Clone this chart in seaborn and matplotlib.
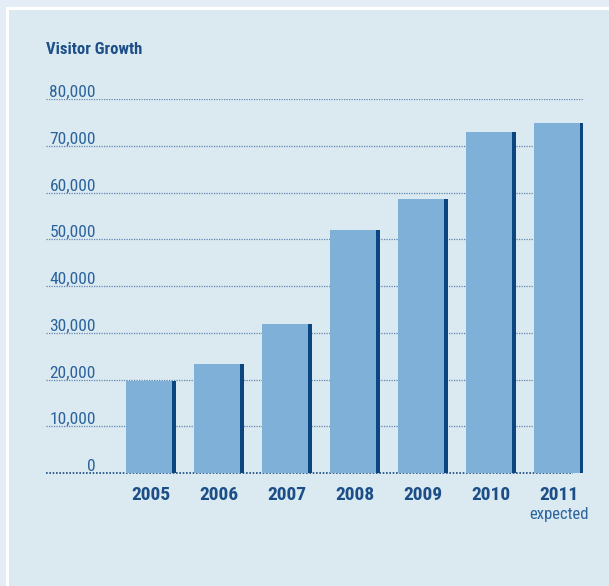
import numpy as np
import pandas as pd
import matplotlib
matplotlib.use("Agg")
import matplotlib.pyplot as plt
import matplotlib.transforms as mtransforms
import seaborn as sb
from matplotlib.patches import Rectangle
from matplotlib.font_manager import fontManager

years = ["2005", "2006", "2007", "2008", "2009", "2010", "2011"]
visitors = [19700, 23300, 31900, 52000, 58600, 72900, 74900]
yticks = [0, 10000, 20000, 30000, 40000, 50000, 60000, 70000, 80000]
ytick_labels = ["0", "10,000", "20,000", "30,000", "40,000", "50,000", "60,000", "70,000", "80,000"]
title = "Visitor Growth"
note_2011 = "expected"

df = pd.DataFrame({"year": years, "visitors": visitors})

sb.set_style("white")
names = {f.name for f in fontManager.ttflist}
fam = [f for f in ["Roboto Condensed", "Liberation Sans Narrow", "Open Sans", "DejaVu Sans"]
       if f in names]
plt.rcParams["font.family"] = fam

W, H = 609, 586
fig = plt.figure(figsize=(W / 100, H / 100), dpi=100)
fig.patch.set_facecolor("#e4ecf5")
# white frame + panel
fig.patches.append(Rectangle((6 / W, 0), 1, (H - 7) / H, transform=fig.transFigure,
                             facecolor="white", edgecolor="none", zorder=-2))
fig.patches.append(Rectangle((8.5 / W, 0), 1, (H - 9.5) / H, transform=fig.transFigure,
                             facecolor="#dbe9f1", edgecolor="none", zorder=-1))

# axes in pixel coordinates
left, right, top, bottom = 46, 583, 99, 473
ax = fig.add_axes([left / W, (H - bottom) / H, (right - left) / W, (bottom - top) / H])
ax.set_zorder(1)
ax.set_facecolor("none")

dark = "#0b4681"
light = "#7fb0d8"
sb.barplot(data=df, x="year", y="visitors", color=dark, width=50 / 68, saturation=1,
           linewidth=0, ax=ax, zorder=3)
n_dark = len(ax.patches)
sb.barplot(data=df, x="year", y="visitors", color=light, width=50 / 68, saturation=1,
           linewidth=0, ax=ax, zorder=4)
for p in ax.patches[n_dark:]:
    p.set_width(p.get_width() * 46 / 50)

ax.set_xlim(-105 / 68, 432 / 68)
ax.set_ylim(0, 80000)
for s in ax.spines.values():
    s.set_visible(False)
ax.set_xlabel("")
ax.set_ylabel("")
ax.set_xticks([])
ax.set_yticks([])

lab_tr = mtransforms.blended_transform_factory(fig.transFigure, ax.transData)
for v, lab in zip(yticks, ytick_labels):
    if v == 0:
        ax.plot([-105 / 68, 6.2], [0, 0], color="#1a4a80", lw=1.2, ls=(0, (1, 1)), zorder=2,
                clip_on=False)
    else:
        ax.axhline(v, color="#5f86b0", lw=0.9, ls=(0, (1, 1)), zorder=2)
    ax.text(96 / W, v + 450, lab, transform=lab_tr, ha="right", va="baseline", fontsize=12.5,
            color="#2b639c")

for i, y in enumerate(years):
    ax.text(i, -5780, y, ha="center", va="baseline", fontsize=14, fontweight="bold",
            color="#1c4f88")
ax.text(6, -9840, note_2011, ha="center", va="baseline", fontsize=12, color="#2b639c")

fig.text(46 / W, 1 - 54 / H, title, ha="left", va="baseline", fontsize=12,
         fontweight="bold", color="#1c4f88")

fig.savefig("out.png", dpi=100, facecolor=fig.get_facecolor())
